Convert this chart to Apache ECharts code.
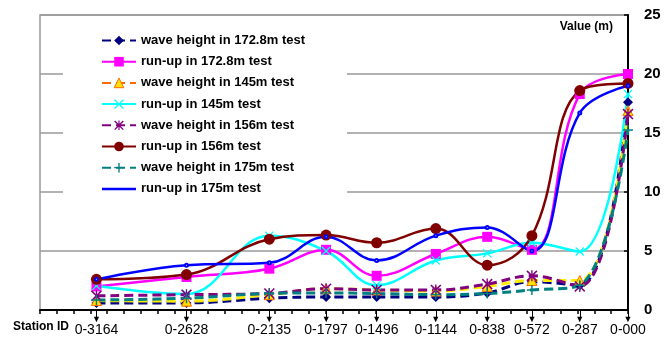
<!DOCTYPE html>
<html><head><meta charset="utf-8">
<script src="https://cdn.jsdelivr.net/npm/echarts@6/dist/echarts.min.js"></script>
<style>html,body{margin:0;padding:0;background:#fff}#c{width:672px;height:340px}</style>
</head><body><div id="c"></div>
<script>
// Station distances (m) and their labels
const stations = [3164, 2628, 2135, 1797, 1496, 1144, 838, 572, 287, 0];
const stationLabels = ['0-3164','0-2628','0-2135','0-1797','0-1496','0-1144','0-838','0-572','0-287','0-000'];
const seriesNames = [
  'wave height in 172.8m test','run-up in 172.8m test',
  'wave height in 145m test','run-up in 145m test',
  'wave height in 156m test','run-up in 156m test',
  'wave height in 175m test','run-up in 175m test'
];
// Values (m), in station order
const wave1728 = [0.6, 0.6, 1.0, 1.1, 1.1, 1.1, 1.45, 2.4, 2.1, 17.6];
const run1728  = [2.0, 2.8, 3.5, 5.1, 2.9, 4.75, 6.2, 5.1, 18.3, 20.0];
const wave145  = [0.8, 0.75, 1.3, 1.8, 1.7, 1.6, 2.0, 2.5, 2.5, 16.9];
const run145   = [2.05, 1.35, 6.3, 5.0, 2.1, 4.2, 4.8, 5.7, 4.95, 18.3];
const wave156  = [1.2, 1.3, 1.4, 1.8, 1.7, 1.7, 2.2, 2.9, 2.0, 16.6];
const run156   = [2.6, 3.0, 6.0, 6.35, 5.7, 6.9, 3.8, 6.3, 18.6, 19.2];
const wave175  = [0.85, 1.0, 1.4, 1.45, 1.4, 1.3, 1.4, 1.7, 2.1, 15.25];
const run175   = [2.6, 3.8, 4.0, 6.2, 4.2, 6.3, 7.0, 5.0, 16.7, 19.0];

const X_SYM = 'path://M0,1 L1,0 L5,4 L9,0 L10,1 L6,5 L10,9 L9,10 L5,6 L1,10 L0,9 L4,5 Z';
const STAR_SYM = 'path://M0,1 L1,0 L5,4 L9,0 L10,1 L6,5 L10,9 L9,10 L5,6 L1,10 L0,9 L4,5 Z M4.4,0 L5.6,0 L5.6,10 L4.4,10 Z';
const PLUS_SYM = 'path://M4.3,0 L5.7,0 L5.7,4.3 L10,4.3 L10,5.7 L5.7,5.7 L5.7,10 L4.3,10 L4.3,5.7 L0,5.7 L0,4.3 L4.3,4.3 Z';
const LINE_ICON = 'path://M0,0 L34,0 L34,2.5 L0,2.5 Z';

function pts(arr){ return stations.map((s,i)=>[s, arr[i]]); }
function mk(name, arr, color, dashed, symbol, size, itemColor, border){
  return {
    name, type:'line', data: pts(arr), smooth: 0.4,
    symbol, symbolSize: size, showSymbol: true,
    lineStyle: {color, width: dashed ? 3 : 2.5, type: dashed ? [9,5] : 'solid'},
    itemStyle: {color: itemColor || color, borderColor: border || (itemColor || color), borderWidth: border ? 1 : 0},
    emphasis: {disabled: true}
  };
}

const chart = echarts.init(document.getElementById('c'), null, {renderer:'canvas'});
chart.setOption({
  animation: false,
  backgroundColor: '#fff',
  title: [
    {text:'Value (m)', right: 59, top: 21, padding: 0, textStyle:{fontSize:12, fontWeight:'bold', color:'#000', fontFamily:'Arial'}},
    {text:'Station ID', left: 13, top: 321, padding: 0, textStyle:{fontSize:12, fontWeight:'bold', color:'#000', fontFamily:'Arial'}}
  ],
  grid: {left:40, right:44, top:15, bottom:30, show:true, borderColor:'#999', borderWidth:1.5, backgroundColor:'#fff', outerBoundsMode:'none', containLabel:false},
  legend: {
    orient:'vertical', left:63, top:22, padding:[12,42,12,38],
    itemWidth:34, itemHeight:12, itemGap:8.2,
    backgroundColor:'#fff', z: 10,
    textStyle:{fontSize:13, fontWeight:'bold', color:'#000', fontFamily:'Arial'},
    data: seriesNames.map((n,i)=> i===2 ? {name:n, lineStyle:{color:'#FF6A00'}, itemStyle:{color:'#FFE000', borderColor:'#FF6A00', borderWidth:1}}
                              : i===7 ? {name:n, icon: LINE_ICON}
                              : {name:n})
  },
  xAxis: [
    {type:'value', min:0, max:3500, inverse:true, interval:100, position:'bottom',
     axisLine:{show:true, lineStyle:{color:'#000', width:2}},
     axisTick:{show:true, length:4, lineStyle:{color:'#000', width:1.5}},
     axisLabel:{show:false}, splitLine:{show:false}},
    {type:'value', min:0, max:3500, inverse:true, position:'bottom', offset:0,
     axisLine:{show:false},
     axisTick:{show:true, customValues: stations, length:8, lineStyle:{color:'#000', width:1}},
     axisLabel:{show:true, customValues: stations, fontSize:14, color:'#000', margin:13, fontFamily:'Arial',
       formatter: v => stationLabels[stations.indexOf(v)]},
     splitLine:{show:false}},
    {type:'value', min:0, max:3500, inverse:true, position:'bottom', offset:0,
     axisLine:{show:false}, axisTick:{show:false},
     axisLabel:{show:true, customValues: stations, fontSize:9, color:'#000', margin:5,
       formatter: () => '▼'},
     splitLine:{show:false}}
  ],
  yAxis: {type:'value', position:'right', min:0, max:25, interval:5,
    axisLine:{show:true, lineStyle:{color:'#000', width:2}},
    axisTick:{show:true, inside:true, length:4, lineStyle:{color:'#000', width:1.5}},
    axisLabel:{fontSize:15, fontWeight:'bold', color:'#000', margin:16, fontFamily:'Arial'},
    splitLine:{show:true, lineStyle:{color:'#999', width:1.5}}},
  series: [
    mk(seriesNames[0], wave1728, '#000080', true, 'diamond', 10),
    mk(seriesNames[1], run1728, '#FF00FF', false, 'rect', 10),
    mk(seriesNames[2], wave145, '#FFEE00', true, 'triangle', 10, '#FFE000', '#FF6A00'),
    mk(seriesNames[3], run145, '#00FFFF', false, X_SYM, 9),
    mk(seriesNames[4], wave156, '#800080', true, STAR_SYM, 11),
    mk(seriesNames[5], run156, '#800000', false, 'circle', 11),
    mk(seriesNames[6], wave175, '#008080', true, PLUS_SYM, 10),
    mk(seriesNames[7], run175, '#0000FF', false, 'emptyCircle', 3)
  ]
});
</script></body></html>
